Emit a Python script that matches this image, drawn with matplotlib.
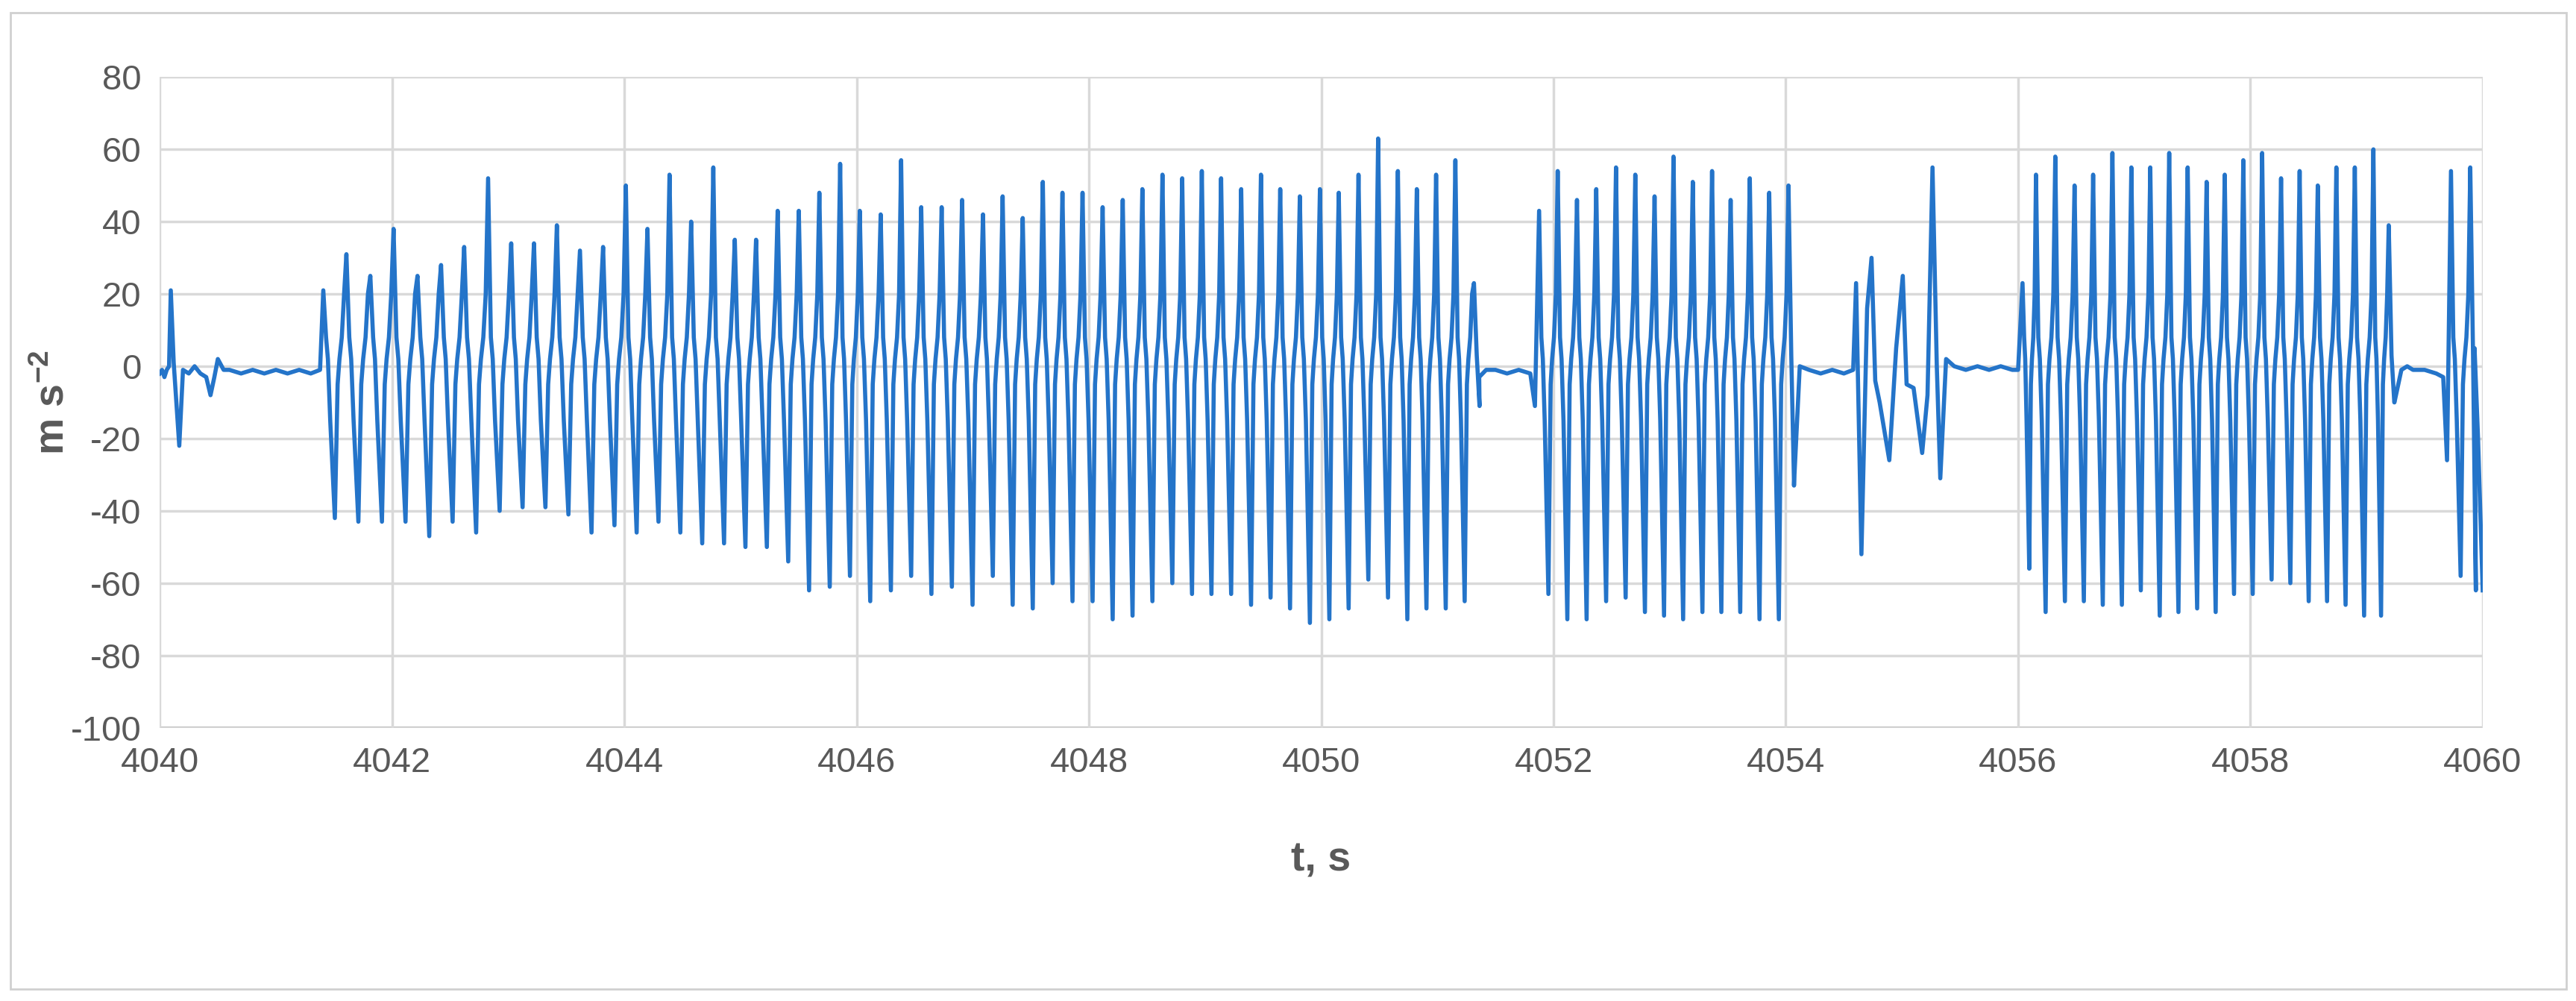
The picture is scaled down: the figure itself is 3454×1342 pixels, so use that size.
import matplotlib.pyplot as plt
from matplotlib.patches import Rectangle

plt.rcParams['font.family'] = ['Liberation Sans', 'DejaVu Sans']
plt.rcParams['axes.unicode_minus'] = False
plt.rcParams['mathtext.default'] = 'regular'

# peak time (s), peak value and the trough that follows it
burst_a_t = [4041.408, 4041.607, 4041.813, 4042.013, 4042.219, 4042.422, 4042.621, 4042.827,
             4043.026, 4043.222, 4043.419, 4043.618, 4043.817, 4044.013, 4044.199, 4044.389,
             4044.575, 4044.766, 4044.951, 4045.134, 4045.320, 4045.502, 4045.679, 4045.858,
             4046.027, 4046.207, 4046.383, 4046.556, 4046.732, 4046.908, 4047.088, 4047.257,
             4047.430, 4047.603, 4047.772, 4047.945, 4048.118, 4048.291, 4048.460, 4048.633,
             4048.803, 4048.972, 4049.138, 4049.311, 4049.481, 4049.647, 4049.816, 4049.989,
             4050.151, 4050.321, 4050.490, 4050.660, 4050.823, 4050.989, 4051.155, 4051.315]
burst_a_p = [21, 31, 25, 38, 25, 28, 33, 52, 34, 34, 39, 32, 33, 50, 38, 53, 40, 55, 35, 35,
             43, 43, 48, 56, 43, 42, 57, 44, 44, 46, 42, 47, 41, 51, 48, 48, 44, 46, 49, 53,
             52, 54, 52, 49, 53, 49, 47, 49, 48, 53, 63, 54, 49, 53, 57, 23]
burst_a_v = [-42, -43, -43, -43, -47, -43, -46, -40, -39, -39, -41, -46, -44, -46, -43, -46,
             -49, -49, -50, -50, -54, -62, -61, -58, -65, -62, -58, -63, -61, -66, -58, -66,
             -67, -60, -65, -65, -70, -69, -65, -60, -63, -63, -63, -66, -64, -67, -71, -70,
             -67, -59, -64, -70, -67, -67, -65, -11]

burst_b_t = [4051.876, 4052.036, 4052.202, 4052.368, 4052.538, 4052.704, 4052.870, 4053.033,
             4053.199, 4053.365, 4053.525, 4053.690, 4053.857, 4054.023]
burst_b_p = [43, 54, 46, 49, 55, 53, 47, 58, 51, 54, 46, 52, 48, 50]
burst_b_v = [-63, -70, -70, -65, -64, -68, -69, -70, -68, -68, -68, -70, -70, -33]

burst_c_t = [4056.038, 4056.154, 4056.320, 4056.486, 4056.646, 4056.812, 4056.975, 4057.138,
             4057.301, 4057.460, 4057.623, 4057.779, 4057.939, 4058.101, 4058.264, 4058.424,
             4058.580, 4058.740, 4058.899, 4059.059, 4059.191]
burst_c_p = [23, 53, 58, 50, 53, 59, 55, 55, 59, 55, 51, 53, 57, 59, 52, 54, 50, 55, 55, 60, 39]
burst_c_v = [-56, -68, -65, -65, -66, -66, -62, -69, -68, -67, -68, -63, -63, -59, -60, -65,
             -65, -66, -69, -69, -10]

burst_d_t = [4059.727, 4059.893]
burst_d_p = [54, 55]
burst_d_v = [-58, -62]

# quiet stretches and single events between bursts
quiet0_t = [4040.0, 4040.02, 4040.04, 4040.06, 4040.08, 4040.095, 4040.12, 4040.168, 4040.2,
            4040.25, 4040.3, 4040.35, 4040.4, 4040.437, 4040.47, 4040.5, 4040.55, 4040.6,
            4040.7, 4040.8, 4040.9, 4041.0, 4041.1, 4041.2, 4041.3, 4041.38]
quiet0_v = [-2, -1, -3, -1, 0, 21, 1, -22, -1, -2, 0, -2, -3, -8, -3, 2, -1, -1, -2, -1, -2,
            -1, -2, -1, -2, -1]
quiet1_t = [4051.36, 4051.42, 4051.5, 4051.6, 4051.7, 4051.8, 4051.84]
quiet1_v = [-3, -1, -1, -2, -1, -2, -11]
quiet2_t = [4054.07, 4054.12, 4054.2, 4054.3, 4054.4, 4054.5, 4054.58, 4054.605, 4054.651,
            4054.7, 4054.738, 4054.77, 4054.808, 4054.891, 4054.95, 4055.007, 4055.04, 4055.1,
            4055.174, 4055.22, 4055.263, 4055.3, 4055.33, 4055.38, 4055.45, 4055.55, 4055.65,
            4055.75, 4055.85, 4055.95, 4056.0]
quiet2_v = [-33, 0, -1, -2, -1, -2, -1, 23, -52, 16, 30, -4, -10, -26, 5, 25, -5, -6, -24, -8,
            55, 0, -31, 2, 0, -1, 0, -1, 0, -1, -1]
quiet3_t = [4059.24, 4059.3, 4059.35, 4059.4, 4059.5, 4059.6, 4059.66, 4059.693]
quiet3_v = [-10, -1, 0, -1, -1, -2, -3, -26]
tail_t = [4059.93, 4059.96, 4060.0]
tail_v = [5, -20, -62]

# fractions of a cycle for the waveform points between one peak and the next
shape_f = [0.12, 0.2, 0.3, 0.5, 0.62, 0.7, 0.8, 0.9]


def burst(ts, ps, vs, last_d=0.08):
    xs, ys = [], []
    for i in range(len(ts)):
        d = ts[i + 1] - ts[i] if i + 1 < len(ts) else last_d
        p, v = ps[i], vs[i]
        xs.append(ts[i])
        ys.append(p)
        if i + 1 < len(ts):
            vals = [8, 2, -15, v, -5, 2, 8, 20]
            for f, y in zip(shape_f, vals):
                xs.append(ts[i] + f * d)
                ys.append(y)
        else:
            xs += [ts[i] + 0.3 * d, ts[i] + 0.6 * d]
            ys += [3, v]
    return xs, ys


t, a = [], []
for seg in [(quiet0_t, quiet0_v), burst(burst_a_t, burst_a_p, burst_a_v),
            (quiet1_t, quiet1_v), burst(burst_b_t, burst_b_p, burst_b_v),
            (quiet2_t, quiet2_v), burst(burst_c_t, burst_c_p, burst_c_v),
            (quiet3_t, quiet3_v), burst(burst_d_t, burst_d_p, burst_d_v), (tail_t, tail_v)]:
    t += list(seg[0])
    a += list(seg[1])

fig = plt.figure(figsize=(34.55, 13.42), dpi=100)
fig.patches.append(Rectangle((0.004, 0.012), 0.992, 0.975, transform=fig.transFigure,
                             fill=False, edgecolor='#d0d0d0', lw=2))
ax = fig.add_axes([0.062, 0.273, 0.9015, 0.65])
ax.plot(t, a, color='#2474c9', lw=4)
ax.set_xlim(4040, 4060)
ax.set_ylim(-100, 80)
ax.set_xticks(range(4040, 4061, 2))
ax.set_yticks(range(-100, 81, 20))
ax.grid(True, color='#d9d9d9', lw=2.5)
ax.set_axisbelow(True)
for s in ax.spines.values():
    s.set_visible(False)
ax.axhline(-100, color='#bfbfbf', lw=3, zorder=0)
ax.tick_params(length=0, labelsize=34, labelcolor='#595959', pad=18)
ax.set_xlabel('t, s', fontsize=40, fontweight='bold', color='#595959', labelpad=60)
ax.set_ylabel('m s$^{-2}$', fontsize=40, fontweight='bold', color='#595959', labelpad=-2)
fig.savefig('out.png')
